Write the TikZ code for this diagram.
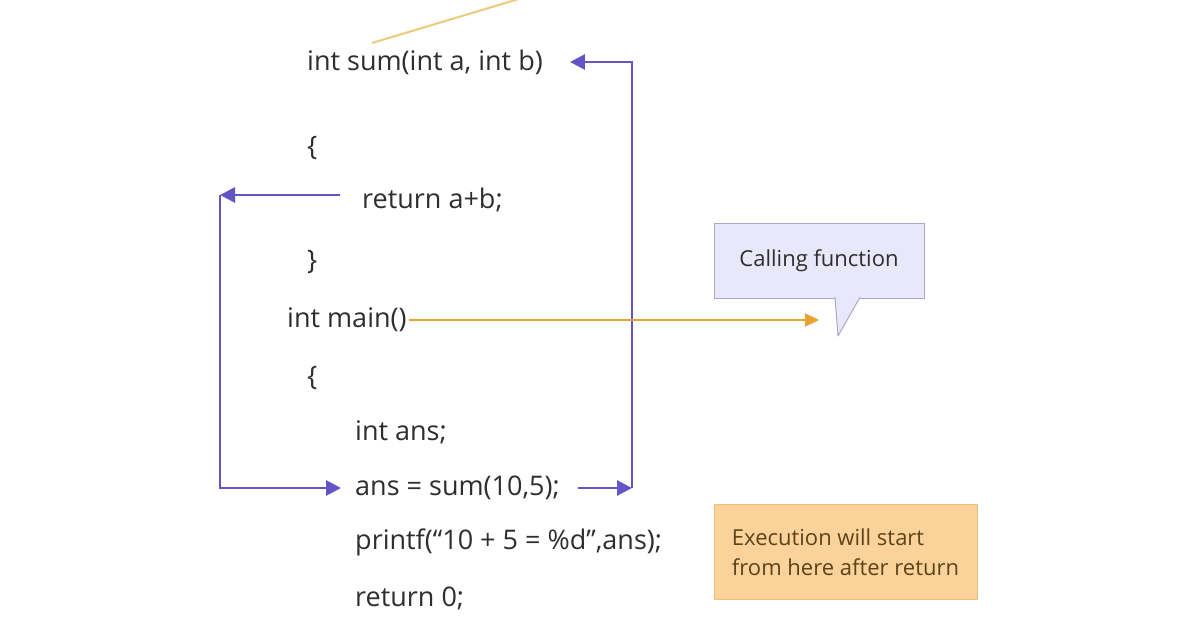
\documentclass[tikz,border=0pt]{standalone}
\usepackage{fontspec}
\setmainfont{Open Sans}
\usetikzlibrary{
	positioning				% relative placement
	, arrows.meta			% Triangle tips
}
\definecolor{codegrey}{HTML}{2E2E2E}
\definecolor{flowpurple}{HTML}{6355C8}
\definecolor{calloutfill}{HTML}{E9E8FA}
\definecolor{calloutline}{HTML}{A9A8C8}
\definecolor{mainorange}{HTML}{E8A232}
\definecolor{paleorange}{HTML}{EBCB7A}
\definecolor{notefill}{HTML}{FBD39A}
\definecolor{noteline}{HTML}{EDBE7C}
\definecolor{notetext}{HTML}{5C4318}

\begin{document}
\begin{tikzpicture}[x=1pt, y=-1pt
		, codeline/.style={anchor=west, inner sep=2pt, text=codegrey, font=\fontsize{27}{30}\selectfont}
		, basearrow/.style={>={Triangle[length=15pt, width=15pt]}, line width=2.9pt}
		, callflow/.style={basearrow, color=flowpurple}
		, mainflow/.style={basearrow, color=mainorange, line width=2.3pt, >={Triangle[length=14pt, width=13pt]}}
		, bubble/.style={draw=calloutline, fill=calloutfill, line width=1pt
			, minimum width=210pt, minimum height=74pt, text=codegrey, font=\fontsize{22}{26}\selectfont}
		, bubblepointer/.style={draw=calloutline, fill=calloutfill, line width=1pt, line join=round}
		, notebox/.style={draw=noteline, fill=notefill, line width=1pt, minimum width=263pt, minimum height=95pt
			, align=left, text=notetext, font=\fontsize{22}{30}\selectfont}]

		%%% Frame
		\useasboundingbox[fill=white] (0,0) rectangle (1196,628);

		%%% Code lines
		\node[codeline] (sumline) at (305,62) {int sum(int a, int b)};
		\node[codeline] (openA) at (305,148) {\{};
		\node[codeline] (returnline) at (360,200) {return a+b;};
		\node[codeline] (closeA) at (305,262) {\}};
		\node[codeline] (mainline) at (285,320) {int main()};
		\node[codeline] (openB) at (305,378) {\{};
		\node[codeline] (ansdecl) at (353,432) {int ans;};
		\node[codeline] (ansline) at (353,488) {ans = sum(10,5);};
		\node[codeline] (printline) at (353,542) {printf(“10 + 5 = \%d”,ans);};
		\node[codeline] (returnzero) at (353,598) {return 0;};

		%%% Notes
		\node[bubble] (callnote) at (819,261) {Calling function};
		\coordinate (calltip) at (838,336);
		\path[bubblepointer] ([xshift=16pt, yshift=1.3pt]callnote.south) -- (calltip) -- ([xshift=41pt, yshift=1.3pt]callnote.south);
		\node[notebox] (returnnote) at (845.5,552) {Execution will start\\from here after return};

		%%% Free ends
		\coordinate (cutstart) at (372,43);
		\coordinate (cutend) at (522,-2);

		%%% Flow
		%% Call into sum
		\draw[callflow, ->] ([xshift=16pt]ansline.east) -- ++(54,0) coordinate (callcorner);
		\draw[callflow, ->] (callcorner) |- ([xshift=25pt]sumline.east);

		%% Return back to main
		\draw[callflow, ->] ([xshift=-20pt, yshift=5pt]returnline.west) -- ++(-120,0) coordinate (retcorner);
		\draw[callflow, ->] (retcorner) |- ([xshift=-12pt]ansline.west);

		%% main is the caller
		\draw[mainflow, ->] (mainline.east) -- (callnote.south |- mainline.east);
		\draw[paleorange, line width=2pt] (cutstart) -- (cutend);
	\end{tikzpicture}
\end{document}
